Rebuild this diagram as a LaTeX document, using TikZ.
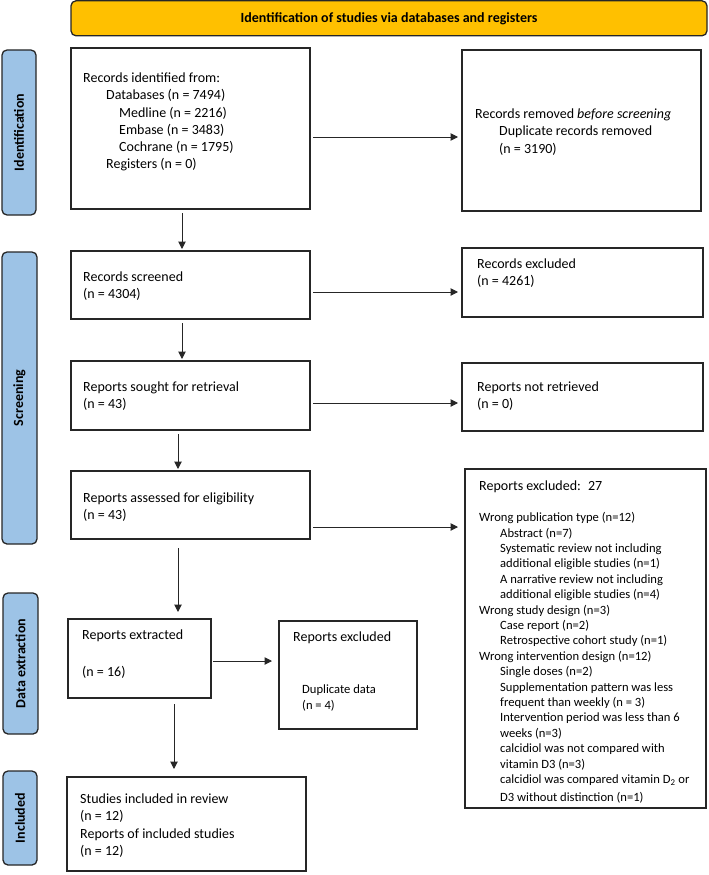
\documentclass[tikz,border=0pt]{standalone}
\usepackage{fontspec}
\setmainfont{Carlito}
\usetikzlibrary{arrows.meta,calc}
\definecolor{hdr}{HTML}{FFC000}
\definecolor{side}{HTML}{9DC3E6}
\definecolor{ln}{HTML}{262626}
\newcommand\fA{\fontsize{14}{17.2}\selectfont}
\newcommand\fB{\fontsize{12.6}{15.4}\selectfont}
\newcommand\stA{\rule{0pt}{12pt}}
\newcommand\stB{\rule{0pt}{11pt}}
\newcommand\ind[1]{\hspace*{#1pt}}
\begin{document}
\begin{tikzpicture}[x=1pt,y=-1pt,
  box/.style={draw=ln, line width=1.5pt, inner sep=0pt, outer sep=0pt, anchor=north west},
  sidelab/.style={draw=ln, line width=1.3pt, fill=side, rounded corners=5pt, rotate=90,
     inner sep=0pt, font=\fontsize{14}{16}\selectfont\bfseries},
  txtA/.style={anchor=north west, inner sep=0pt, align=left, font=\fA},
  txtB/.style={anchor=north west, inner sep=0pt, align=left, font=\fB},
  arr/.style={draw=ln, line width=1pt, -{Triangle[length=7.5pt,width=7.5pt]}}]
\useasboundingbox (0,0) rectangle (709,875);

% header
\node[draw=ln, line width=1.3pt, fill=hdr, rounded corners=5pt, minimum width=636pt,
  minimum height=35pt, inner sep=0pt, font=\fontsize{14}{16}\selectfont\bfseries]
  (hdr) at (389,18.3) {Identification of studies via databases and registers};

% side labels
\node[sidelab, minimum width=165pt, minimum height=34pt] (sIdent) at (19,132.5) {Identification};
\node[sidelab, minimum width=292pt, minimum height=35pt] (sScr) at (19.5,398) {Screening};
\node[sidelab, minimum width=141pt, minimum height=35pt] (sData) at (20.5,663.5) {Data extraction};
\node[sidelab, minimum width=94pt, minimum height=34pt] (sIncl) at (20,818) {Included};

% boxes
\node[box, minimum width=239pt, minimum height=161pt] (b1) at (71,48) {};
\node[box, minimum width=239pt, minimum height=161pt] (r1) at (462,50) {};
\node[box, minimum width=239pt, minimum height=68pt] (b2) at (71,251) {};
\node[box, minimum width=241pt, minimum height=69pt] (r2) at (462,248) {};
\node[box, minimum width=239pt, minimum height=69pt] (b3) at (71,361) {};
\node[box, minimum width=241pt, minimum height=68pt] (r3) at (462,363) {};
\node[box, minimum width=239pt, minimum height=68pt] (b4) at (71,471) {};
\node[box, minimum width=241pt, minimum height=339pt] (r4) at (465,469) {};
\node[box, minimum width=143pt, minimum height=79pt] (b5) at (68,619) {};
\node[box, minimum width=138pt, minimum height=108pt] (m5) at (279,621) {};
\node[box, minimum width=239pt, minimum height=94pt] (b6) at (67,777) {};

% texts
\node[txtA] (t1) at (83,70.5) {\stA Records identified from:\\
  \ind{23}Databases (n = 7494)\\
  \ind{36}Medline (n = 2216)\\
  \ind{36}Embase (n = 3483)\\
  \ind{36}Cochrane (n = 1795)\\
  \ind{23}Registers (n = 0)};
\node[txtA] (tr1) at (475,106.5) {\stA Records removed \textit{before screening}\\
  \ind{24}Duplicate records removed\\
  \ind{24}(n = 3190)};
\node[txtA] (t2) at (83,269.5) {\stA Records screened\\(n = 4304)};
\node[txtA] (tr2) at (477,256.5) {\stA Records excluded\\(n = 4261)};
\node[txtA] (t3) at (83,379.5) {\stA Reports sought for retrieval\\(n = 43)};
\node[txtA] (tr3) at (477,379.5) {\stA Reports not retrieved\\(n = 0)};
\node[txtA] (t4) at (83,490.5) {\stA Reports assessed for eligibility\\(n = 43)};
\node[txtA] (tr4h) at (479,478.5) {\stA Reports excluded:\hspace{3pt} 27};
\node[txtB] (tr4) at (479,510.5) {\stB Wrong publication type (n=12)\\
  \ind{21}Abstract (n=7)\\
  \ind{21}Systematic review not including\\
  \ind{21}additional eligible studies (n=1)\\
  \ind{21}A narrative review not including\\
  \ind{21}additional eligible studies (n=4)\\
  Wrong study design (n=3)\\
  \ind{21}Case report (n=2)\\
  \ind{21}Retrospective cohort study (n=1)\\
  Wrong intervention design (n=12)\\
  \ind{21}Single doses (n=2)\\
  \ind{21}Supplementation pattern was less\\
  \ind{21}frequent than weekly (n = 3)\\
  \ind{21}Intervention period was less than 6\\
  \ind{21}weeks (n=3)\\
  \ind{21}calcidiol was not compared with\\
  \ind{21}vitamin D3 (n=3)\\
  \ind{21}calcidiol was compared vitamin D\textsubscript{2} or\\[2.6pt]
  \ind{21}D3 without distinction (n=1)};
\node[txtA] (t5) at (82,627.5) {\stA Reports extracted\\[19.8pt](n = 16)};
\node[txtA] (tm5h) at (293,629.5) {\stA Reports excluded};
\node[txtB] (tm5) at (302,682.5) {\stB Duplicate data\\[0.6pt](n = 4)};
\node[txtA] (t6) at (80,791.5) {\stA Studies included in review\\
  (n = 12)\\Reports of included studies\\(n = 12)};

% connectors
\draw[arr] ($(b1.south -| 182,0)+(0,4)$) -- ($(b2.north -| 182,0)+(0,-2)$);
\draw[arr] ($(b2.south -| 182,0)+(0,4)$) -- ($(b3.north -| 182,0)+(0,-2)$);
\draw[arr] ($(b3.south -| 178,0)+(0,4)$) -- ($(b4.north -| 178,0)+(0,-2)$);
\draw[arr] ($(b4.south -| 178,0)+(0,9)$) -- ($(b5.north -| 178,0)+(0,-7)$);
\draw[arr] ($(b5.south -| 174,0)+(0,6)$) -- ($(b6.north -| 174,0)+(0,-8)$);
\draw[arr] ($(b1.east |- 0,137)+(3,0)$) -- ($(r1.west |- 0,137)+(-4,0)$);
\draw[arr] ($(b2.east |- 0,292)+(3,0)$) -- ($(r2.west |- 0,292)+(-4,0)$);
\draw[arr] ($(b3.east |- 0,403)+(3,0)$) -- ($(r3.west |- 0,403)+(-4,0)$);
\draw[arr] ($(b4.east |- 0,527)+(3,0)$) -- ($(r4.west |- 0,527)+(-7,0)$);
\draw[arr] ($(b5.east |- 0,661)+(2,0)$) -- ($(m5.west |- 0,661)+(-7,0)$);
\end{tikzpicture}
\end{document}
